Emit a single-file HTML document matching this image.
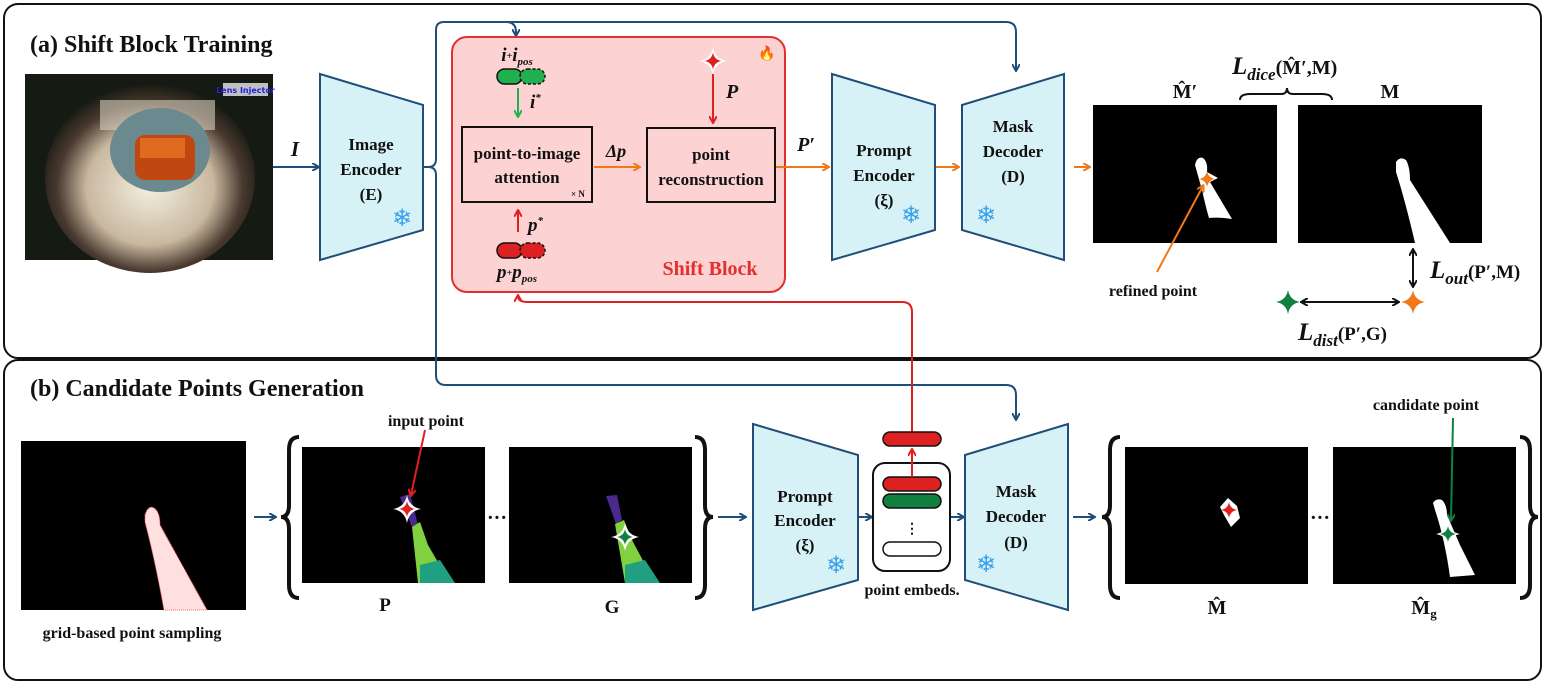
<!DOCTYPE html>
<html><head><meta charset="utf-8"><style>
html,body{margin:0;padding:0;background:#fff;}
svg{display:block;}
text{font-family:"Liberation Serif",serif;font-weight:bold;fill:#111;}
.sn{fill:#3aa0e8;font-weight:normal;font-family:"DejaVu Sans",sans-serif;}
</style></head><body>
<svg width="1547" height="686" viewBox="0 0 1547 686" xmlns="http://www.w3.org/2000/svg">
<defs>
<marker id="ab" markerWidth="8" markerHeight="8" refX="6" refY="4" orient="auto" markerUnits="userSpaceOnUse"><path d="M0,0 L7,4 L0,8" fill="none" stroke="#1f4e79" stroke-width="2"/></marker>
<marker id="ao" markerWidth="8" markerHeight="8" refX="6" refY="4" orient="auto" markerUnits="userSpaceOnUse"><path d="M0,0 L7,4 L0,8" fill="none" stroke="#f07818" stroke-width="2"/></marker>
<marker id="ar" markerWidth="8" markerHeight="8" refX="6" refY="4" orient="auto" markerUnits="userSpaceOnUse"><path d="M0,0 L7,4 L0,8" fill="none" stroke="#e02020" stroke-width="2"/></marker>
<marker id="ag" markerWidth="8" markerHeight="8" refX="6" refY="4" orient="auto" markerUnits="userSpaceOnUse"><path d="M0,0 L7,4 L0,8" fill="none" stroke="#20b050" stroke-width="2"/></marker>
<marker id="agd" markerWidth="8" markerHeight="8" refX="6" refY="4" orient="auto" markerUnits="userSpaceOnUse"><path d="M0,0 L7,4 L0,8" fill="none" stroke="#108040" stroke-width="2"/></marker>
<marker id="ak" markerWidth="8" markerHeight="8" refX="6" refY="4" orient="auto-start-reverse" markerUnits="userSpaceOnUse"><path d="M0,0 L7,4 L0,8" fill="none" stroke="#111" stroke-width="2"/></marker>
<path id="st" d="M0,-10 Q1.5,-1.5 10,0 Q1.5,1.5 0,10 Q-1.5,1.5 -10,0 Q-1.5,-1.5 0,-10Z"/>
<radialGradient id="eye" cx="0.5" cy="0.55" r="0.55"><stop offset="0" stop-color="#f4efe0"/><stop offset="0.55" stop-color="#c8b8a0"/><stop offset="0.8" stop-color="#4a3a30"/><stop offset="1" stop-color="#151810"/></radialGradient>
</defs>

<rect x="4" y="4" width="1537" height="354" rx="14" fill="#fff" stroke="#111" stroke-width="2"/>
<rect x="4" y="360" width="1537" height="320" rx="14" fill="#fff" stroke="#111" stroke-width="2"/>
<text x="30" y="52" font-size="24">(a) Shift Block Training</text>
<text x="30" y="396" font-size="24">(b) Candidate Points Generation</text>

<!-- eye image -->
<rect x="25" y="74" width="248" height="186" fill="#151a12"/>
<ellipse cx="150" cy="178" rx="105" ry="95" fill="url(#eye)"/>
<rect x="100" y="100" width="115" height="30" fill="#d8d0c0" opacity="0.6"/>
<ellipse cx="160" cy="150" rx="50" ry="42" fill="#6a8a90"/>
<rect x="135" y="135" width="60" height="45" rx="10" fill="#c04810"/>
<rect x="140" y="138" width="45" height="20" fill="#e06a20"/>
<rect x="223" y="83" width="45" height="13" fill="#c0c0c0"/>
<text x="245.5" y="93" font-size="8" text-anchor="middle" style="fill:#2020e0;font-family:'DejaVu Sans',sans-serif">Lens Injector</text>
<line x1="273" y1="167" x2="318" y2="167" stroke="#1f4e79" stroke-width="2" marker-end="url(#ab)"/>
<text x="295" y="156" font-size="21" font-style="italic" text-anchor="middle">I</text>

<polygon points="320,74 423,105 423,230 320,260" fill="#d6f2f6" stroke="#1f4e79" stroke-width="2"/>
<text x="371" y="150" font-size="17" text-anchor="middle">Image</text>
<text x="371" y="175" font-size="17" text-anchor="middle">Encoder</text>
<text x="371" y="200" font-size="17" text-anchor="middle">(E)</text>
<text x="402" y="226" font-size="24" text-anchor="middle" class="sn">❄</text>

<path d="M423,167 L428,167 Q436,167 436,159 L436,30 Q436,22 444,22 L506,22 Q516,22 516,32 L516,35" fill="none" stroke="#1f4e79" stroke-width="2" marker-end="url(#ab)"/>
<path d="M506,22 L1006,22 Q1016,22 1016,32 L1016,70" fill="none" stroke="#1f4e79" stroke-width="2" marker-end="url(#ab)"/>
<path d="M428,167 Q436,167 436,175 L436,375 Q436,385 446,385 L1006,385 Q1016,385 1016,395 L1016,419" fill="none" stroke="#1f4e79" stroke-width="2" marker-end="url(#ab)"/>

<!-- shift block -->
<rect x="452" y="37" width="333" height="255" rx="15" fill="#fdd2d2" stroke="#e03030" stroke-width="2"/>
<text x="767" y="58" font-size="14" text-anchor="middle" style="fill:#f06010;font-family:'DejaVu Sans',sans-serif">🔥</text>
<text x="517" y="61" font-size="19" font-style="italic" text-anchor="middle">i<tspan font-size="10" dy="-2">+</tspan><tspan dy="2">i</tspan><tspan font-size="11" dy="4">pos</tspan></text>
<rect x="497" y="69" width="25" height="15" rx="7.5" fill="#20b050" stroke="#111" stroke-width="1.5"/>
<rect x="520" y="69" width="25" height="15" rx="7.5" fill="#20b050" stroke="#111" stroke-width="1.5" stroke-dasharray="3,2"/>
<line x1="518" y1="88" x2="518" y2="116" stroke="#20b050" stroke-width="2" marker-end="url(#ag)"/>
<text x="530" y="108" font-size="19" font-style="italic">i<tspan font-size="11" dy="-7">*</tspan></text>
<rect x="462" y="127" width="130" height="75" fill="none" stroke="#111" stroke-width="2"/>
<text x="527" y="159" font-size="17" text-anchor="middle">point-to-image</text>
<text x="527" y="183" font-size="17" text-anchor="middle">attention</text>
<text x="578" y="197" font-size="9" text-anchor="middle">× N</text>
<line x1="518" y1="232" x2="518" y2="211" stroke="#e02020" stroke-width="2" marker-end="url(#ar)"/>
<text x="528" y="231" font-size="19" font-style="italic">p<tspan font-size="11" dy="-7">*</tspan></text>
<rect x="497" y="243" width="25" height="15" rx="7.5" fill="#dd2020" stroke="#111" stroke-width="1.5"/>
<rect x="520" y="243" width="25" height="15" rx="7.5" fill="#dd2020" stroke="#111" stroke-width="1.5" stroke-dasharray="3,2"/>
<text x="517" y="278" font-size="19" font-style="italic" text-anchor="middle">p<tspan font-size="10" dy="-2">+</tspan><tspan dy="2">p</tspan><tspan font-size="11" dy="4">pos</tspan></text>
<text x="616" y="157" font-size="18" font-style="italic" text-anchor="middle">Δp</text>
<line x1="594" y1="167" x2="639" y2="167" stroke="#f07818" stroke-width="2" marker-end="url(#ao)"/>
<rect x="647" y="128" width="128" height="74" fill="none" stroke="#111" stroke-width="2"/>
<text x="711" y="160" font-size="17" text-anchor="middle">point</text>
<text x="711" y="185" font-size="17" text-anchor="middle">reconstruction</text>
<use href="#st" transform="translate(713,61) scale(1.4)" fill="#fff"/>
<use href="#st" transform="translate(713,61) scale(0.85)" fill="#e02020"/>
<line x1="713" y1="74" x2="713" y2="122" stroke="#e02020" stroke-width="2" marker-end="url(#ar)"/>
<text x="726" y="98" font-size="20" font-style="italic">P</text>
<text x="710" y="275" font-size="20" text-anchor="middle" style="fill:#e03030">Shift Block</text>

<text x="806" y="151" font-size="20" font-style="italic" text-anchor="middle">P′</text>
<line x1="776" y1="167" x2="828" y2="167" stroke="#f07818" stroke-width="2" marker-end="url(#ao)"/>

<polygon points="832,74 935,105 935,230 832,260" fill="#d6f2f6" stroke="#1f4e79" stroke-width="2"/>
<text x="884" y="156" font-size="17" text-anchor="middle">Prompt</text>
<text x="884" y="181" font-size="17" text-anchor="middle">Encoder</text>
<text x="884" y="206" font-size="17" text-anchor="middle">(ξ)</text>
<text x="911" y="223" font-size="24" text-anchor="middle" class="sn">❄</text>
<line x1="936" y1="167" x2="958" y2="167" stroke="#f07818" stroke-width="2" marker-end="url(#ao)"/>
<polygon points="962,105 1064,74 1064,260 962,230" fill="#d6f2f6" stroke="#1f4e79" stroke-width="2"/>
<text x="1013" y="132" font-size="17" text-anchor="middle">Mask</text>
<text x="1013" y="157" font-size="17" text-anchor="middle">Decoder</text>
<text x="1013" y="182" font-size="17" text-anchor="middle">(D)</text>
<text x="986" y="223" font-size="24" text-anchor="middle" class="sn">❄</text>
<line x1="1074" y1="167" x2="1089" y2="167" stroke="#f07818" stroke-width="2" marker-end="url(#ao)"/>

<rect x="1093" y="105" width="184" height="138" fill="#000"/>
<path d="M1195,165 Q1197,156 1203,158 Q1208,162 1207,172 L1218,178 L1210,182 L1232,219 Q1220,217 1209,218 Q1206,208 1202,190 Z" fill="#fff"/>
<rect x="1298" y="105" width="184" height="138" fill="#000"/>
<path d="M1396,162 Q1400,156 1406,160 Q1410,167 1410,180 L1450,243 L1415,243 Q1405,200 1396,172 Z" fill="#fff"/>
<text x="1185" y="98" font-size="20" text-anchor="middle">M̂′</text>
<text x="1390" y="98" font-size="20" text-anchor="middle">M</text>
<path d="M1240,100 Q1240,94 1250,94 L1281,94 Q1287,94 1287,88 Q1287,94 1293,94 L1322,94 Q1332,94 1332,100" fill="none" stroke="#111" stroke-width="2"/>
<text x="1232" y="74" font-size="25" font-style="italic">L<tspan font-size="17" dy="6">dice</tspan><tspan font-style="normal" font-size="20" dy="-6">(M̂′,M)</tspan></text>
<use href="#st" transform="translate(1207,179) scale(0.8)" fill="#f07818"/>
<line x1="1157" y1="272" x2="1203" y2="186" stroke="#f07818" stroke-width="2" marker-end="url(#ao)"/>
<text x="1153" y="296" font-size="16" text-anchor="middle">refined point</text>
<line x1="1413" y1="250" x2="1413" y2="286" stroke="#111" stroke-width="2" marker-start="url(#ak)" marker-end="url(#ak)"/>
<text x="1430" y="278" font-size="25" font-style="italic">L<tspan font-size="17" dy="6">out</tspan><tspan font-style="normal" font-size="19" dy="-6">(P′,M)</tspan></text>
<use href="#st" transform="translate(1288,302) scale(1.2)" fill="#108040"/>
<use href="#st" transform="translate(1413,302) scale(1.2)" fill="#f07818"/>
<line x1="1302" y1="302" x2="1398" y2="302" stroke="#111" stroke-width="2" marker-start="url(#ak)" marker-end="url(#ak)"/>
<text x="1298" y="340" font-size="25" font-style="italic">L<tspan font-size="17" dy="6">dist</tspan><tspan font-style="normal" font-size="19" dy="-6">(P′,G)</tspan></text>

<path d="M912,432 L912,312 Q912,302 902,302 L528,302 Q518,302 518,296" fill="none" stroke="#e02020" stroke-width="2" marker-end="url(#ar)"/>

<!-- panel b -->
<rect x="21" y="441" width="225" height="169" fill="#000"/>
<path d="M145,515 Q148,505 154,508 Q160,512 160,525 L207,610 L164,610 Q155,560 145,522 Z" fill="#ffe0e0" stroke="#ff6060" stroke-width="1" stroke-dasharray="1,1"/>
<text x="132" y="638" font-size="16" text-anchor="middle">grid-based point sampling</text>
<line x1="254" y1="517" x2="275" y2="517" stroke="#1f4e79" stroke-width="2" marker-end="url(#ab)"/>
<path d="M299,437 Q289,437 289,450 L289,505 Q289,517 281,517 Q289,517 289,529 L289,585 Q289,598 299,598" fill="none" stroke="#111" stroke-width="4"/>

<rect x="302" y="447" width="183" height="136" fill="#000"/>
<polygon points="400,497 410,494 415,513 418,525 412,527 405,510" fill="#4a2a8a"/>
<polygon points="412,527 420,522 428,545 450,583 418,583" fill="#80d040"/>
<polygon points="420,565 440,560 455,583 420,583" fill="#20a080"/>
<use href="#st" transform="translate(407,509) scale(1.4)" fill="#fff"/>
<use href="#st" transform="translate(407,509) scale(0.8)" fill="#e02020"/>
<text x="426" y="426" font-size="16" text-anchor="middle">input point</text>
<line x1="425" y1="430" x2="411" y2="495" stroke="#e02020" stroke-width="2" marker-end="url(#ar)"/>
<text x="497" y="524" font-size="20" text-anchor="middle">···</text>
<rect x="509" y="447" width="183" height="136" fill="#000"/>
<polygon points="606,496 617,495 622,520 616,524" fill="#4a2a8a"/>
<polygon points="615,524 624,520 632,540 655,583 625,583" fill="#80d040"/>
<polygon points="625,565 645,560 660,583 625,583" fill="#20a080"/>
<use href="#st" transform="translate(625,537) scale(1.4)" fill="#fff"/>
<use href="#st" transform="translate(625,537) scale(0.8)" fill="#108040"/>
<text x="385" y="611" font-size="19" text-anchor="middle">P</text>
<text x="612" y="613" font-size="19" text-anchor="middle">G</text>
<path d="M695,437 Q705,437 705,450 L705,505 Q705,517 713,517 Q705,517 705,529 L705,585 Q705,598 695,598" fill="none" stroke="#111" stroke-width="4"/>
<line x1="718" y1="517" x2="745" y2="517" stroke="#1f4e79" stroke-width="2" marker-end="url(#ab)"/>

<polygon points="753,424 858,455 858,580 753,610" fill="#d6f2f6" stroke="#1f4e79" stroke-width="2"/>
<text x="805" y="502" font-size="17" text-anchor="middle">Prompt</text>
<text x="805" y="526" font-size="17" text-anchor="middle">Encoder</text>
<text x="805" y="551" font-size="17" text-anchor="middle">(ξ)</text>
<text x="836" y="573" font-size="24" text-anchor="middle" class="sn">❄</text>
<line x1="859" y1="517" x2="871" y2="517" stroke="#1f4e79" stroke-width="2" marker-end="url(#ab)"/>
<rect x="873" y="463" width="77" height="108" rx="12" fill="#fff" stroke="#111" stroke-width="2"/>
<rect x="883" y="432" width="58" height="14" rx="7" fill="#dd2020" stroke="#111" stroke-width="1.5"/>
<rect x="883" y="477" width="58" height="14" rx="7" fill="#dd2020" stroke="#111" stroke-width="1.5"/>
<rect x="883" y="494" width="58" height="14" rx="7" fill="#108040" stroke="#111" stroke-width="1.5"/>
<text x="912" y="533" font-size="14" text-anchor="middle">⋮</text>
<rect x="883" y="542" width="58" height="14" rx="7" fill="#fff" stroke="#111" stroke-width="1.5"/>
<line x1="912" y1="477" x2="912" y2="450" stroke="#e02020" stroke-width="2" marker-end="url(#ar)"/>
<text x="912" y="595" font-size="16" text-anchor="middle">point embeds.</text>
<line x1="951" y1="517" x2="963" y2="517" stroke="#1f4e79" stroke-width="2" marker-end="url(#ab)"/>
<polygon points="965,455 1068,424 1068,610 965,580" fill="#d6f2f6" stroke="#1f4e79" stroke-width="2"/>
<text x="1016" y="497" font-size="17" text-anchor="middle">Mask</text>
<text x="1016" y="522" font-size="17" text-anchor="middle">Decoder</text>
<text x="1016" y="548" font-size="17" text-anchor="middle">(D)</text>
<text x="986" y="572" font-size="24" text-anchor="middle" class="sn">❄</text>
<line x1="1073" y1="517" x2="1094" y2="517" stroke="#1f4e79" stroke-width="2" marker-end="url(#ab)"/>

<path d="M1120,437 Q1110,437 1110,450 L1110,505 Q1110,517 1102,517 Q1110,517 1110,529 L1110,585 Q1110,598 1120,598" fill="none" stroke="#111" stroke-width="4"/>
<rect x="1125" y="447" width="183" height="137" fill="#000"/>
<path d="M1220,507 L1228,498 L1237,506 L1240,518 L1231,527 L1224,515 Z" fill="#fff"/>
<use href="#st" transform="translate(1229,510) scale(0.8)" fill="#e02020"/>
<text x="1320" y="524" font-size="20" text-anchor="middle">···</text>
<rect x="1333" y="447" width="183" height="137" fill="#000"/>
<path d="M1433,503 Q1436,498 1442,500 Q1447,505 1447,515 L1460,545 L1475,575 L1450,577 Q1445,540 1435,510 Z" fill="#fff"/>
<use href="#st" transform="translate(1448,534) scale(1.2)" fill="#fff"/>
<use href="#st" transform="translate(1448,534) scale(0.8)" fill="#108040"/>
<text x="1426" y="410" font-size="16" text-anchor="middle">candidate point</text>
<line x1="1453" y1="418" x2="1451" y2="520" stroke="#108040" stroke-width="2" marker-end="url(#agd)"/>
<text x="1217" y="614" font-size="20" text-anchor="middle">M̂</text>
<text x="1424" y="614" font-size="20" text-anchor="middle">M̂<tspan font-size="13" dy="4">g</tspan></text>
<path d="M1520,437 Q1530,437 1530,450 L1530,505 Q1530,517 1538,517 Q1530,517 1530,529 L1530,585 Q1530,598 1520,598" fill="none" stroke="#111" stroke-width="4"/>
</svg>
</body></html>
